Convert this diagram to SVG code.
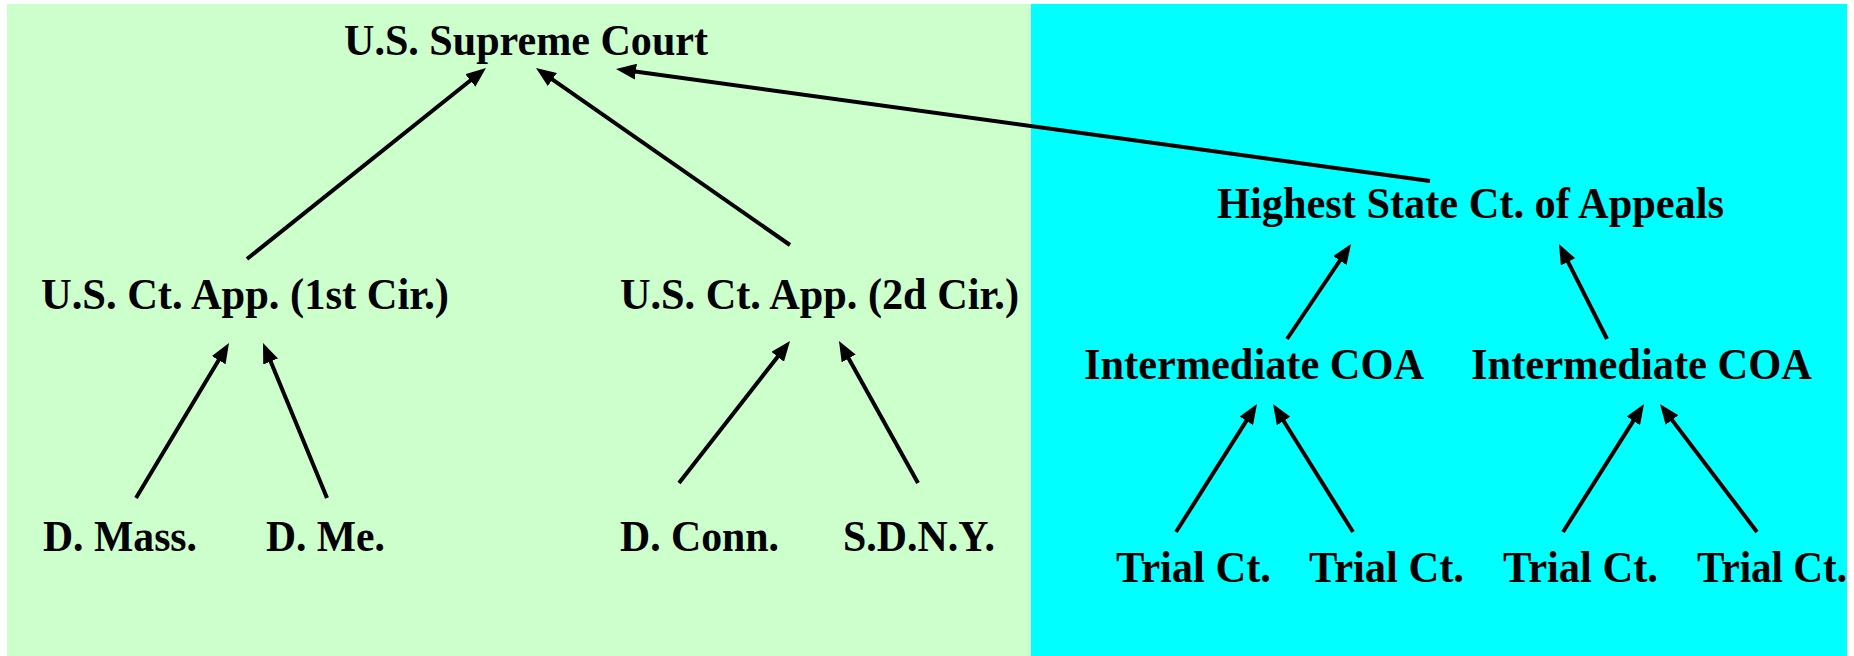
<svg xmlns="http://www.w3.org/2000/svg" width="1854" height="656" viewBox="0 0 1854 656">
  <style>
    .lbl { font-family: "Liberation Serif", "Times New Roman", serif; font-weight: bold; font-size: 44px; fill: #000; }
    .conn line { stroke: #000; stroke-width: 4; marker-end: url(#ah); }
  </style>
  <defs>
    <marker id="ah" viewBox="0 0 20 16" refX="8" refY="8" markerWidth="20" markerHeight="16" markerUnits="userSpaceOnUse" orient="auto">
      <path d="M0,0 L20,8 L0,16 z" fill="#000"/>
    </marker>
  </defs>
  <rect x="0" y="0" width="1854" height="656" fill="#fff"/>
  <rect id="federal-bg" x="7" y="4" width="1024" height="652" fill="#CCFFCC"/>
  <rect id="state-bg" x="1031" y="4" width="816" height="652" fill="#00FFFF"/>

  <g class="conn" id="connectors">
    <line x1="247" y1="259" x2="476.6" y2="75.5"/>
    <line x1="790" y1="245" x2="545.8" y2="74.9"/>
    <line x1="1430" y1="181" x2="627.9" y2="70.6"/>
    <line x1="136" y1="498" x2="222.8" y2="353.3"/>
    <line x1="327" y1="498" x2="267.6" y2="354.1"/>
    <line x1="679" y1="483" x2="782.6" y2="350.5"/>
    <line x1="918" y1="483" x2="844.8" y2="351.5"/>
    <line x1="1287" y1="339" x2="1344.3" y2="254"/>
    <line x1="1607" y1="339" x2="1564.4" y2="254.7"/>
    <line x1="1176" y1="532" x2="1250.6" y2="414.1"/>
    <line x1="1353" y1="532" x2="1279.4" y2="414.2"/>
    <line x1="1563" y1="532" x2="1637.6" y2="414.1"/>
    <line x1="1757" y1="532" x2="1667.2" y2="413.6"/>
  </g>

  <g id="scotus"><text class="lbl" x="344" y="55" textLength="364" lengthAdjust="spacingAndGlyphs">U.S. Supreme Court</text></g>
  <g id="highest-state"><text class="lbl" x="1217" y="218" textLength="507" lengthAdjust="spacingAndGlyphs">Highest State Ct. of Appeals</text></g>
  <g id="ca1"><text class="lbl" x="41" y="309" textLength="408" lengthAdjust="spacingAndGlyphs">U.S. Ct. App. (1st Cir.)</text></g>
  <g id="ca2"><text class="lbl" x="620" y="309" textLength="399" lengthAdjust="spacingAndGlyphs">U.S. Ct. App. (2d Cir.)</text></g>
  <g id="coa1"><text class="lbl" x="1084" y="379" textLength="340" lengthAdjust="spacingAndGlyphs">Intermediate COA</text></g>
  <g id="coa2"><text class="lbl" x="1471" y="379" textLength="341" lengthAdjust="spacingAndGlyphs">Intermediate COA</text></g>
  <g id="dmass"><text class="lbl" x="43" y="551" textLength="154" lengthAdjust="spacingAndGlyphs">D. Mass.</text></g>
  <g id="dme"><text class="lbl" x="266" y="551" textLength="119" lengthAdjust="spacingAndGlyphs">D. Me.</text></g>
  <g id="dconn"><text class="lbl" x="620" y="551" textLength="159" lengthAdjust="spacingAndGlyphs">D. Conn.</text></g>
  <g id="sdny"><text class="lbl" x="843" y="551" textLength="152" lengthAdjust="spacingAndGlyphs">S.D.N.Y.</text></g>
  <g id="trial1"><text class="lbl" x="1116" y="582" textLength="155" lengthAdjust="spacingAndGlyphs">Trial Ct.</text></g>
  <g id="trial2"><text class="lbl" x="1309" y="582" textLength="155" lengthAdjust="spacingAndGlyphs">Trial Ct.</text></g>
  <g id="trial3"><text class="lbl" x="1503" y="582" textLength="155" lengthAdjust="spacingAndGlyphs">Trial Ct.</text></g>
  <g id="trial4"><text class="lbl" x="1697" y="582" textLength="150" lengthAdjust="spacingAndGlyphs">Trial Ct.</text></g>
</svg>
